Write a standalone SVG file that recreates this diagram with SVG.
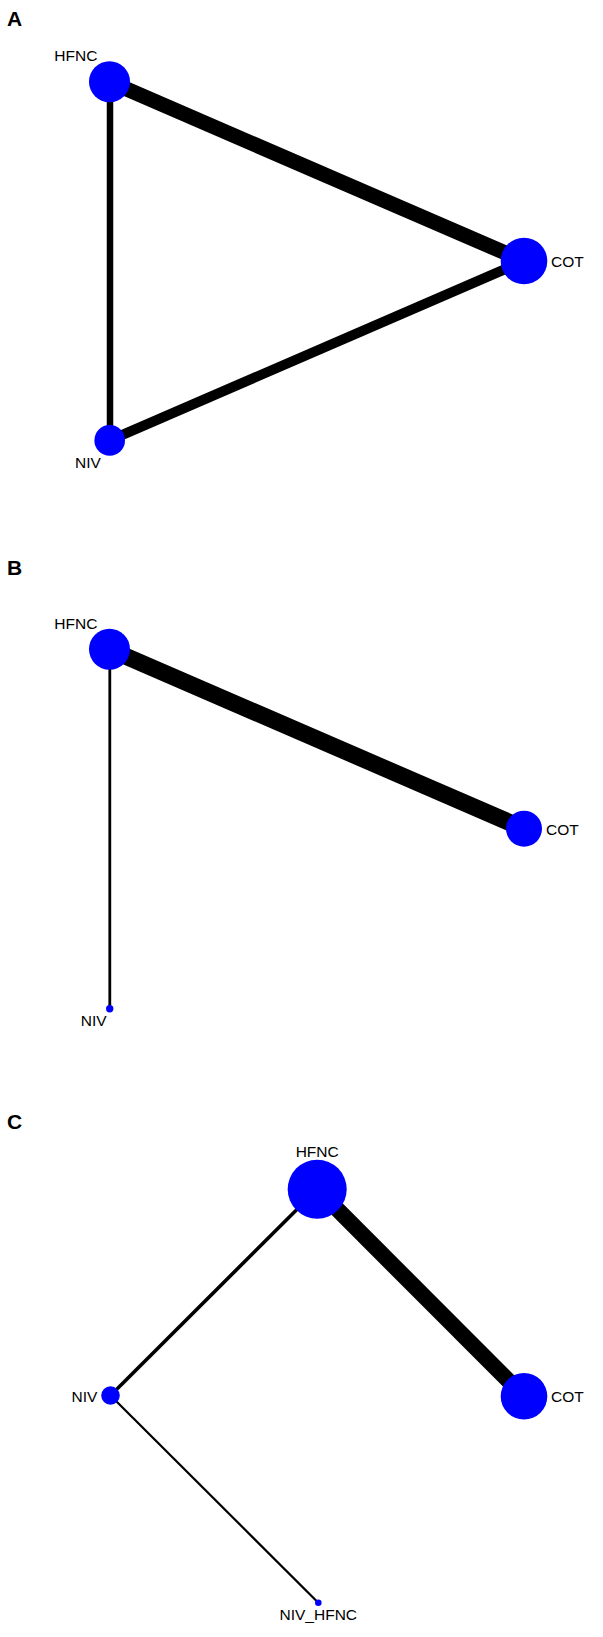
<svg xmlns="http://www.w3.org/2000/svg" width="603" height="1637" viewBox="0 0 603 1637">
<style>
.lbl{font-family:"Liberation Sans",Arial,sans-serif;font-size:15.5px;fill:#000}
.panel{font-family:"Liberation Sans",Arial,sans-serif;font-size:21px;font-weight:bold;fill:#000}
.node{fill:#0000FF}
.edge{stroke:#000;fill:none}
</style>
<rect width="603" height="1637" fill="#fff"/>
<text class="panel" x="7" y="25.5">A</text>
<text class="panel" x="7" y="574.5">B</text>
<text class="panel" x="7" y="1128.5">C</text>
<g id="connectors">
<line class="edge" x1="109.5" y1="81.7" x2="524" y2="261" stroke-width="15"/>
<line class="edge" x1="110" y1="81.7" x2="110" y2="440.4" stroke-width="6.5"/>
<line class="edge" x1="109.7" y1="440.4" x2="524" y2="261" stroke-width="10"/>
<line class="edge" x1="109.5" y1="649.2" x2="524" y2="828.7" stroke-width="17"/>
<line class="edge" x1="109.8" y1="649.2" x2="109.8" y2="1008.7" stroke-width="2.8"/>
<line class="edge" x1="317.2" y1="1189.2" x2="524" y2="1396.3" stroke-width="16"/>
<line class="edge" x1="317.2" y1="1189.2" x2="110.5" y2="1395.5" stroke-width="3.6"/>
<line class="edge" x1="110.5" y1="1395.5" x2="318.3" y2="1602.7" stroke-width="2.2"/>
</g>
<g id="A-HFNC"><circle class="node" cx="109.5" cy="81.7" r="20.5"/><text class="lbl" x="54.3" y="61">HFNC</text></g>
<g id="A-COT"><circle class="node" cx="524" cy="261" r="23.3"/><text class="lbl" x="551" y="267.3">COT</text></g>
<g id="A-NIV"><circle class="node" cx="109.7" cy="440.4" r="15.3"/><text class="lbl" x="75" y="468">NIV</text></g>
<g id="B-HFNC"><circle class="node" cx="109.5" cy="649.2" r="20.5"/><text class="lbl" x="54.3" y="629">HFNC</text></g>
<g id="B-COT"><circle class="node" cx="524" cy="828.7" r="18"/><text class="lbl" x="546" y="835">COT</text></g>
<g id="B-NIV"><circle class="node" cx="109.7" cy="1008.7" r="3.7"/><text class="lbl" x="80.7" y="1025.7">NIV</text></g>
<g id="C-HFNC"><circle class="node" cx="317.2" cy="1189.2" r="29.5"/><text class="lbl" x="317.2" y="1157.3" text-anchor="middle">HFNC</text></g>
<g id="C-COT"><circle class="node" cx="524" cy="1396.3" r="23.3"/><text class="lbl" x="551" y="1402.3">COT</text></g>
<g id="C-NIV"><circle class="node" cx="110.5" cy="1395.5" r="9.3"/><text class="lbl" x="71.5" y="1401.5">NIV</text></g>
<g id="C-NIV_HFNC"><circle class="node" cx="318.3" cy="1602.7" r="3.3"/><text class="lbl" x="318.3" y="1620" text-anchor="middle">NIV_HFNC</text></g>
</svg>
